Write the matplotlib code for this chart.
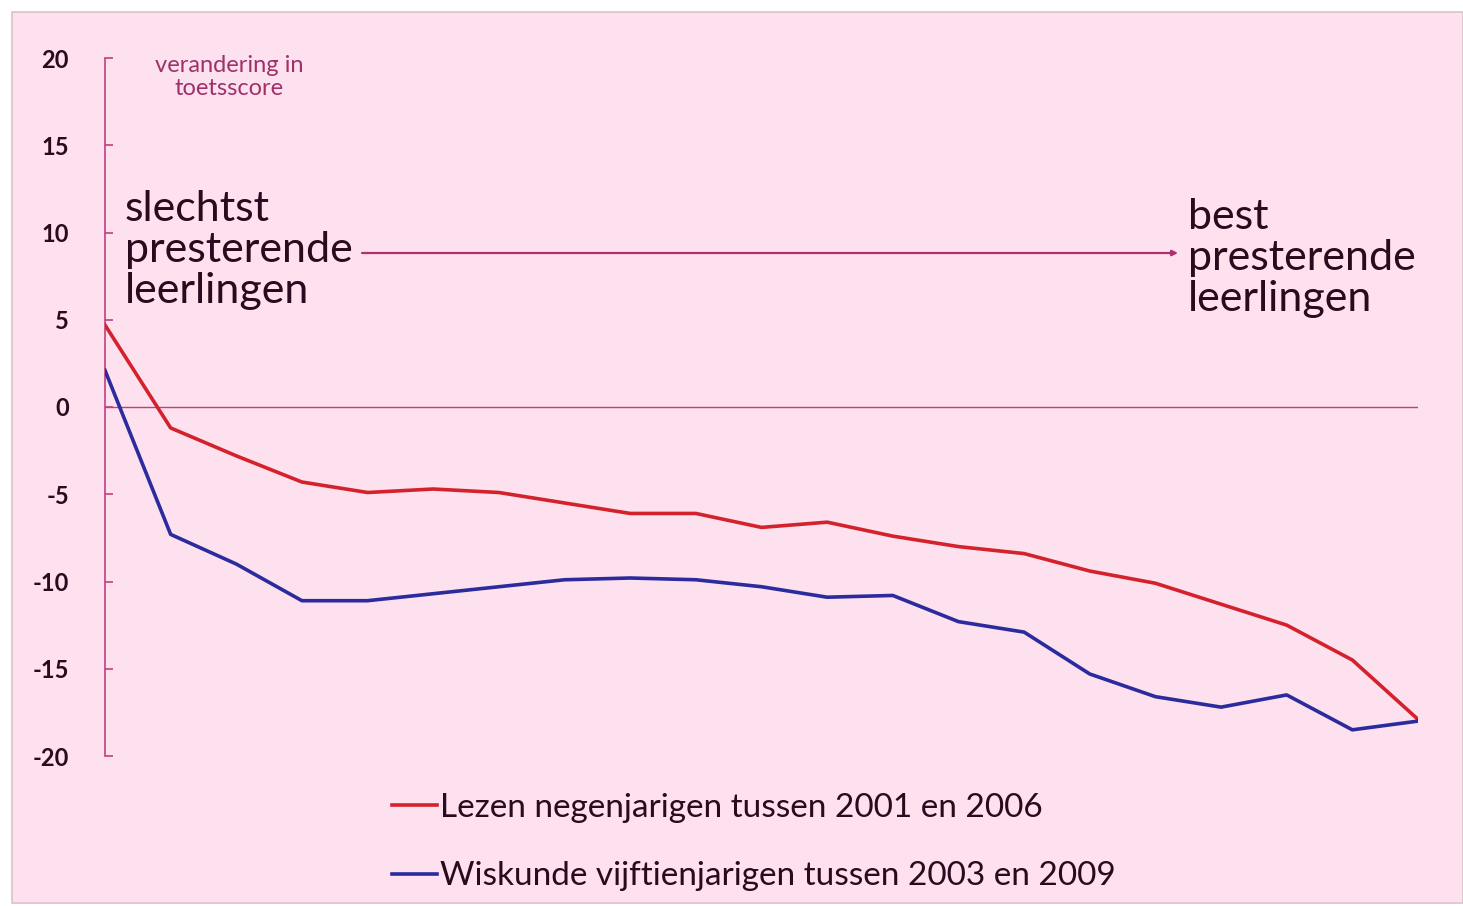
import matplotlib
matplotlib.use("Agg")
import matplotlib.pyplot as plt
from matplotlib.patches import Rectangle
import numpy as np

plt.rcParams['font.family'] = ['Lato', 'DejaVu Sans']

# percentile positions of the students (worst -> best)
positions = list(range(0, 101, 5))
lezen = [4.7, -1.2, -2.8, -4.3, -4.9, -4.7, -4.9, -5.5, -6.1, -6.1, -6.9,
         -6.6, -7.4, -8.0, -8.4, -9.4, -10.1, -11.3, -12.5, -14.5, -17.9]
wiskunde = [2.1, -7.3, -9.0, -11.1, -11.1, -10.7, -10.3, -9.9, -9.8, -9.9, -10.3,
            -10.9, -10.8, -12.3, -12.9, -15.3, -16.6, -17.2, -16.5, -18.5, -18.0]
yticks = [20, 15, 10, 5, 0, -5, -10, -15, -20]
ytick_labels = ['20', '15', '10', '5', '0', '-5', '-10', '-15', '-20']
label_lezen = 'Lezen negenjarigen tussen 2001 en 2006'
label_wisk = 'Wiskunde vijftienjarigen tussen 2003 en 2009'

W, H = 1463, 906
bg = '#fde1ee'
mag = '#c0407e'
txt = '#2a0a1e'

fig = plt.figure(figsize=(W / 100, H / 100), dpi=100, facecolor='white')
fig.patches.append(Rectangle((12 / W, 3 / H), 1 - 12 / W, 1 - 15 / H,
                             transform=fig.transFigure, facecolor=bg,
                             edgecolor='#d9c3cc', linewidth=1.2, zorder=-10))

ax = fig.add_axes([105 / W, 1 - 756 / H, 1313 / W, (756 - 58) / H])
ax.set_facecolor('none')
ax.set_xlim(0, 100)
ax.set_ylim(-20, 20)
for s in ['top', 'right', 'bottom']:
    ax.spines[s].set_visible(False)
ax.spines['left'].set_color(mag)
ax.spines['left'].set_linewidth(1.2)
ax.set_xticks([])
ax.set_yticks(yticks)
ax.set_yticklabels(ytick_labels)
ax.tick_params(axis='y', direction='in', length=6, width=1.2, color=mag,
               labelsize=17, labelcolor=txt, pad=26)
for t in ax.get_yticklabels():
    t.set_fontweight('bold')

ax.axhline(0, color=mag, linewidth=1.0, zorder=1)

l1, = ax.plot(positions, lezen, color='#d4222c', linewidth=2.6, label=label_lezen, zorder=3)
l2, = ax.plot(positions, wiskunde, color='#2b2b9e', linewidth=2.6, label=label_wisk, zorder=3)

ax.text(229 / W, 1 - 77 / H, 'verandering in\ntoetsscore', transform=fig.transFigure,
        ha='center', va='center', fontsize=17, color='#a0306a', linespacing=1.15)

ax.text(125 / W, 1 - 250 / H, 'slechtst\npresterende\nleerlingen', transform=fig.transFigure,
        ha='left', va='center', fontsize=31, color=txt, linespacing=1.1)
ax.text(1188 / W, 1 - 258 / H, 'best\npresterende\nleerlingen', transform=fig.transFigure,
        ha='left', va='center', fontsize=31, color=txt, linespacing=1.1)

ax.annotate('', xy=(1178 / W, 1 - 253 / H), xytext=(362 / W, 1 - 253 / H),
            xycoords=fig.transFigure, textcoords=fig.transFigure,
            arrowprops=dict(arrowstyle='-|>', color='#b0306e', lw=1.6,
                            mutation_scale=8, shrinkA=0, shrinkB=0))

leg = fig.legend(handles=[l1, l2], loc='upper left',
                 bbox_to_anchor=(362 / W, 1 - 763 / H), frameon=False,
                 fontsize=24, labelcolor=txt, handlelength=1.35, handletextpad=0.1,
                 labelspacing=1.15)

fig.savefig('out.png', dpi=100, facecolor='white')
